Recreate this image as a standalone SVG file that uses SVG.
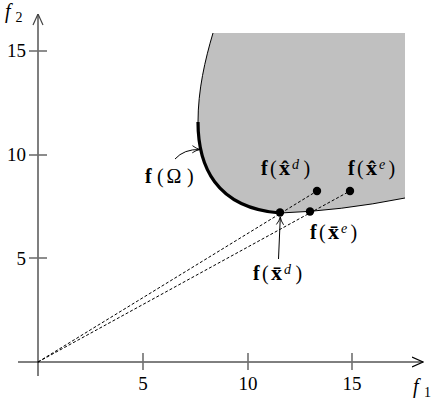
<svg xmlns="http://www.w3.org/2000/svg" width="436" height="399" viewBox="0 0 436 399" font-family="'Liberation Serif', 'Times New Roman', serif">
<defs>
<style>
text{font-family:"Liberation Serif","Times New Roman",serif;fill:#000}
.tick{stroke:#707070;stroke-width:1.6}
.lbl{font-size:20px}
.b{font-weight:bold}
.bx{font-weight:bold;font-size:22px}
.it{font-style:italic}
.sup{font-size:14px;font-style:italic}
.sub{font-size:14px}
.num{font-size:19px}
.dash{stroke:#000;stroke-width:1;stroke-dasharray:3 2;fill:none}
.pt{fill:#000}
.thin{stroke:#000;stroke-width:1;fill:none}
</style>
<marker id="ah" viewBox="0 0 10 10" refX="9.5" refY="5" markerWidth="9" markerHeight="9" markerUnits="userSpaceOnUse" orient="auto">
<path d="M1,1 Q5,4 9.5,5 Q5,6 1,9" fill="none" stroke="#000" stroke-width="1"/>
</marker>
<marker id="axhb" viewBox="0 0 12 12" refX="11.5" refY="6" markerWidth="12" markerHeight="12" markerUnits="userSpaceOnUse" orient="auto">
<path d="M0.5,1 L11.5,6 L0.5,11" fill="none" stroke="#000" stroke-width="1.2"/>
</marker>
<marker id="axhg" viewBox="0 0 12 12" refX="11.5" refY="6" markerWidth="12" markerHeight="12" markerUnits="userSpaceOnUse" orient="auto">
<path d="M0.5,1 L11.5,6 L0.5,11" fill="none" stroke="#444" stroke-width="1.2"/>
</marker>
</defs>

<g id="region">
<path d="M213,33 L405,33 L405,198 Q340,211 280,213 C215,208 198,165 198,122 C198,90 205,60 213,33 Z" fill="#c0c0c0"/>
<path class="thin" d="M198,122 C198,90 205,60 213,33"/>
<path class="thin" d="M280,213 Q340,211 405,198"/>
<path d="M198,122 C198,165 215,208 280,213" fill="none" stroke="#000" stroke-width="3.2"/>
</g>

<g id="axes">
<line x1="38" y1="376" x2="38" y2="14" stroke="#7f7f7f" stroke-width="2" marker-end="url(#axhg)"/>
<line x1="18" y1="362" x2="423" y2="362" stroke="#000" stroke-width="1" marker-end="url(#axhb)"/>
<line class="tick" x1="143" y1="353" x2="143" y2="370"/>
<line class="tick" x1="248" y1="353" x2="248" y2="370"/>
<line class="tick" x1="352" y1="353" x2="352" y2="370"/>
<line class="tick" x1="29" y1="51" x2="47" y2="51"/>
<line class="tick" x1="29" y1="155" x2="47" y2="155"/>
<line class="tick" x1="29" y1="258" x2="47" y2="258"/>
<text class="num" x="143" y="390" text-anchor="middle">5</text>
<text class="num" x="248" y="390" text-anchor="middle">10</text>
<text class="num" x="352" y="390" text-anchor="middle">15</text>
<text class="num" x="26" y="57" text-anchor="end">15</text>
<text class="num" x="26" y="161" text-anchor="end">10</text>
<text class="num" x="26" y="265" text-anchor="end">5</text>
<text class="lbl"><tspan class="it" x="5" y="18">f</tspan><tspan class="sub" x="15.5" y="22">2</tspan></text>
<text class="lbl"><tspan class="it" x="413" y="393">f</tspan><tspan class="sub" x="424" y="397">1</tspan></text>
</g>

<g id="connectors">
<line class="dash" x1="38" y1="362" x2="317" y2="191"/>
<line class="dash" x1="38" y1="362" x2="350" y2="191"/>
<path d="M175,159 Q184,149 200,149.5" fill="none" stroke="#000" stroke-width="1" marker-end="url(#ah)"/>
<line x1="278.5" y1="259" x2="280.3" y2="217" stroke="#000" stroke-width="1" marker-end="url(#ah)"/>
</g>

<g id="f-omega">
<text class="lbl"><tspan class="b" x="145" y="183">f</tspan><tspan x="157" y="183">(</tspan><tspan x="166.5" y="183">Ω</tspan><tspan x="187" y="183">)</tspan></text>
</g>

<g id="f-xbar-d">
<circle class="pt" cx="280" cy="212.5" r="4.2"/>
<text class="lbl"><tspan class="b" x="253" y="280">f</tspan><tspan x="262" y="280">(</tspan><tspan class="bx" x="271" y="280">x̄</tspan><tspan class="sup" x="284" y="274">d</tspan><tspan x="295.5" y="280">)</tspan></text>
</g>

<g id="f-xbar-e">
<circle class="pt" cx="310" cy="211.5" r="4.2"/>
<text class="lbl"><tspan class="b" x="310" y="239">f</tspan><tspan x="319" y="239">(</tspan><tspan class="bx" x="328" y="239">x̄</tspan><tspan class="sup" x="341" y="233">e</tspan><tspan x="350.5" y="239">)</tspan></text>
</g>

<g id="f-xhat-d">
<circle class="pt" cx="317" cy="191" r="4.2"/>
<text class="lbl"><tspan class="b" x="261" y="175">f</tspan><tspan x="270" y="175">(</tspan><tspan class="bx" x="279" y="175">x̂</tspan><tspan class="sup" x="292" y="169">d</tspan><tspan x="303.5" y="175">)</tspan></text>
</g>

<g id="f-xhat-e">
<circle class="pt" cx="350" cy="191" r="4.2"/>
<text class="lbl"><tspan class="b" x="348" y="175">f</tspan><tspan x="357" y="175">(</tspan><tspan class="bx" x="366" y="175">x̂</tspan><tspan class="sup" x="379" y="169">e</tspan><tspan x="388.5" y="175">)</tspan></text>
</g>
</svg>
